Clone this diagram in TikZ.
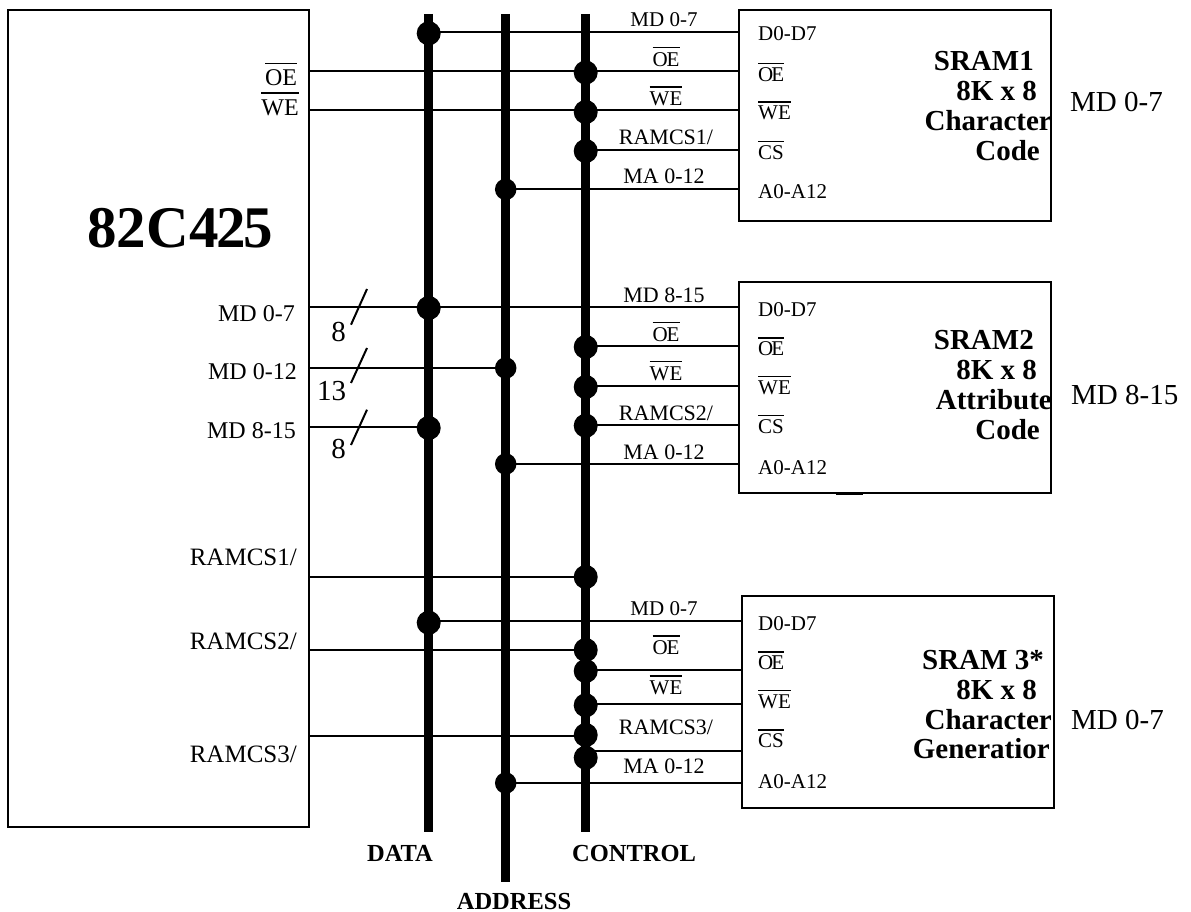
\documentclass[tikz,border=0pt]{standalone}
\usepackage{fontspec}
\setmainfont{Liberation Serif}
\newcommand{\sigbar}[2][3.2pt]{\vbox{\hrule height 1.6pt\kern #1\hbox{#2}}}
\begin{document}
\begin{tikzpicture}[x=1pt,y=-1pt,line cap=butt]
    \tikzset{
        chip/.style={draw,line width=2pt,inner sep=0pt,outer sep=0pt,anchor=north west},
        bus/.style={line width=8.5pt},
        wire/.style={line width=2pt},
        tap/.style={circle,fill=black,inner sep=0pt,minimum size=24pt},
        tapa/.style={circle,fill=black,inner sep=0pt,minimum size=21.5pt},
        sig/.style={inner sep=0pt,font=\fontsize{22}{24}\selectfont},
        sigsmall/.style={inner sep=0pt,font=\fontsize{21}{24}\selectfont},
        pin/.style={sigsmall,anchor=west},
        side/.style={inner sep=0pt,anchor=east,font=\fontsize{24}{26}\selectfont},
        sidecs/.style={side,font=\fontsize{25}{26}\selectfont},
        big/.style={inner sep=0pt,font=\fontsize{29}{32}\selectfont},
        title/.style={inner sep=0pt,font=\bfseries\fontsize{29}{32}\selectfont,anchor=east},
        busname/.style={inner sep=0pt,font=\bfseries\fontsize{24.5}{26}\selectfont}
    }
    \useasboundingbox (0,0) rectangle (1191,912);

    % blocks
    \node[chip,minimum width=301pt,minimum height=817pt] (controller) at (8,10) {};
    \node[inner sep=0pt,font=\bfseries\fontsize{59}{62}\selectfont] (chipname) at (180,228)
        {82C4\kern-2pt2\kern-3pt5};
    \node[chip,minimum width=312pt,minimum height=211pt] (sramA) at (739,10) {};
    \node[chip,minimum width=312pt,minimum height=211pt] (sramB) at (739,282) {};
    \node[chip,minimum width=312pt,minimum height=212pt] (sramC) at (741.5,596) {};
    \coordinate (blotS) at (836,493.5);
    \coordinate (blotE) at (863,493.5);
    \draw[line width=3pt] (blotS) -- (blotE);

    % buses
    \coordinate (dataTop) at (428.7,14);
    \coordinate (dataEnd) at (428.7,832);
    \coordinate (addrTop) at (505.7,14);
    \coordinate (addrEnd) at (505.7,882);
    \coordinate (ctrlTop) at (585.7,14);
    \coordinate (ctrlEnd) at (585.7,832);
    \draw[bus] (dataTop) -- (dataEnd);
    \draw[bus] (addrTop) -- (addrEnd);
    \draw[bus] (ctrlTop) -- (ctrlEnd);
    \node[busname] (dataname) at (400,853) {DATA};
    \node[busname] (addrname) at (514,901) {ADDRESS};
    \node[busname] (ctrlname) at (634,853) {CONTROL};

    % taps on the buses
    \node[tap] (tapA1) at (428.7,33.3) {};
    \node[tap] (tapA2) at (585.7,72.5) {};
    \node[tap] (tapA3) at (585.7,112) {};
    \node[tap] (tapA4) at (585.7,151) {};
    \node[tapa] (tapA5) at (505.7,189.3) {};
    \node[tap] (tapB1) at (428.7,308) {};
    \node[tapa] (tapM) at (505.7,368) {};
    \node[tap] (tapH) at (428.7,428) {};
    \node[tap] (tapB2) at (585.7,347) {};
    \node[tap] (tapB3) at (585.7,387) {};
    \node[tap] (tapB4) at (585.7,425.7) {};
    \node[tapa] (tapB5) at (505.7,464) {};
    \node[tap] (tapCS1) at (585.7,577) {};
    \node[tap] (tapC1) at (428.7,622.7) {};
    \node[tap] (tapCS2) at (585.7,650) {};
    \node[tap] (tapC2) at (585.7,671) {};
    \node[tap] (tapC3) at (585.7,705.3) {};
    \node[tap] (tapCS3) at (585.7,735) {};
    \node[tap] (tapC4) at (585.7,757.7) {};
    \node[tapa] (tapC5) at (505.7,783) {};

    % wires on the controller
    \coordinate (outOE) at (309,71);
    \coordinate (outWE) at (309,110);
    \coordinate (outMDL) at (309,307);
    \coordinate (outMA) at (309,368);
    \coordinate (outMDH) at (309,427);
    \coordinate (outCSA) at (309,577);
    \coordinate (outCSB) at (309,650);
    \coordinate (outCSC) at (309,736);
    \draw[wire] (outOE) -- (outOE -| tapA2);
    \draw[wire] (outWE) -- (outWE -| tapA3);
    \draw[wire] (outMDL) -- (outMDL -| sramB.west);
    \draw[wire] (outMA) -- (outMA -| tapM);
    \draw[wire] (outMDH) -- (outMDH -| tapH);
    \draw[wire] (outCSA) -- (outCSA -| tapCS1);
    \draw[wire] (outCSB) -- (outCSB -| tapCS2);
    \draw[wire] (outCSC) -- (outCSC -| tapCS3);

    % wires on the srams
    \coordinate (inA1) at (739,32);
    \coordinate (inA2) at (739,71);
    \coordinate (inA3) at (739,110);
    \coordinate (inA4) at (739,150);
    \coordinate (inA5) at (739,189);
    \draw[wire] (inA1) -- (inA1 -| tapA1);
    \draw[wire] (inA2) -- (inA2 -| tapA2);
    \draw[wire] (inA3) -- (inA3 -| tapA3);
    \draw[wire] (inA4) -- (inA4 -| tapA4);
    \draw[wire] (inA5) -- (inA5 -| tapA5);
    \coordinate (inB2) at (739,346);
    \coordinate (inB3) at (739,386);
    \coordinate (inB4) at (739,425);
    \coordinate (inB5) at (739,464);
    \draw[wire] (inB2) -- (inB2 -| tapB2);
    \draw[wire] (inB3) -- (inB3 -| tapB3);
    \draw[wire] (inB4) -- (inB4 -| tapB4);
    \draw[wire] (inB5) -- (inB5 -| tapB5);
    \coordinate (inC1) at (741.5,621);
    \coordinate (inC2) at (741.5,670);
    \coordinate (inC3) at (741.5,704);
    \coordinate (inC4) at (741.5,751);
    \coordinate (inC5) at (741.5,783);
    \draw[wire] (inC1) -- (inC1 -| tapC1);
    \draw[wire] (inC2) -- (inC2 -| tapC2);
    \draw[wire] (inC3) -- (inC3 -| tapC3);
    \draw[wire] (inC4) -- (inC4 -| tapC4);
    \draw[wire] (inC5) -- (inC5 -| tapC5);

    % bus width marks
    \coordinate (markAs) at (351,324.7);
    \coordinate (markAe) at (367,289);
    \coordinate (markBs) at (351,383);
    \coordinate (markBe) at (367,348);
    \coordinate (markCs) at (351,445);
    \coordinate (markCe) at (367,409.7);
    \draw[wire] (markAs) -- (markAe);
    \draw[wire] (markBs) -- (markBe);
    \draw[wire] (markCs) -- (markCe);
    \node[big] (widthA) at (338.7,331.7) {8};
    \node[big] (widthB) at (331.7,390.7) {13};
    \node[big] (widthC) at (338.7,449.3) {8};

    % controller labels
    \node[side,anchor=center] (labOE) at (281,74.5) {\sigbar[5.5pt]{OE}};
    \node[side,anchor=center] (labWE) at (280,104) {\sigbar[5.5pt]{WE}};
    \node[side] (labMDL) at (295,314) {MD 0-7};
    \node[side] (labMA) at (297,372) {MD 0-12};
    \node[side] (labMDH) at (296,431) {MD 8-15};
    \node[sidecs] (labCSA) at (297,557) {RAMCS1/};
    \node[sidecs] (labCSB) at (297,641) {RAMCS2/};
    \node[sidecs] (labCSC) at (297,754) {RAMCS3/};

    % labels over the wires
    \node[sigsmall] (wireA1) at (664,20) {MD 0-7};
    \node[sigsmall] (wireA2) at (666,56.5) {\sigbar[4pt]{O\kern-1ptE}};
    \node[sigsmall] (wireA3) at (666,96) {\sigbar[4pt]{WE}};
    \node[sig] (wireA4) at (666,137) {RAMCS1/};
    \node[sig] (wireA5) at (664,176) {MA 0-12};
    \node[sig] (wireB1) at (664,295) {MD 8-15};
    \node[sigsmall] (wireB2) at (666,331.5) {\sigbar[4pt]{O\kern-1ptE}};
    \node[sigsmall] (wireB3) at (666,370.5) {\sigbar[4pt]{WE}};
    \node[sig] (wireB4) at (666,413) {RAMCS2/};
    \node[sig] (wireB5) at (664,452) {MA 0-12};
    \node[sigsmall] (wireC1) at (664,609) {MD 0-7};
    \node[sigsmall] (wireC2) at (666,645) {\sigbar[4pt]{O\kern-1ptE}};
    \node[sigsmall] (wireC3) at (666,685) {\sigbar[4pt]{WE}};
    \node[sig] (wireC4) at (666,727) {RAMCS3/};
    \node[sig] (wireC5) at (664,766) {MA 0-12};

    % pins of sram 1
    \node[pin] (pinA1) at (758,34) {D0-D7};
    \node[pin] (pinA2) at (758,72) {\sigbar{O\kern-2ptE}};
    \node[pin] (pinA3) at (758,110.5) {\sigbar{WE}};
    \node[pin] (pinA4) at (758,150) {\sigbar{CS}};
    \node[pin] (pinA5) at (758,192) {A0-A12};
    \node[title] (nameA1) at (1034,61) {SRAM1};
    \node[title] (nameA2) at (1037,91) {8K x 8};
    \node[title] (nameA3) at (1052,121) {Character};
    \node[title] (nameA4) at (1040,151) {Code};
    \node[big,anchor=west] (busA) at (1070,102) {MD 0-7};

    % pins of sram 2
    \node[pin] (pinB1) at (758,310) {D0-D7};
    \node[pin] (pinB2) at (758,346.5) {\sigbar{O\kern-2ptE}};
    \node[pin] (pinB3) at (758,385) {\sigbar{WE}};
    \node[pin] (pinB4) at (758,424) {\sigbar{CS}};
    \node[pin] (pinB5) at (758,468) {A0-A12};
    \node[title] (nameB1) at (1034,340) {SRAM2};
    \node[title] (nameB2) at (1037,370) {8K x 8};
    \node[title] (nameB3) at (1052,400) {Attribute};
    \node[title] (nameB4) at (1040,430) {Code};
    \node[big,anchor=west] (busB) at (1071,395) {MD 8-15};

    % pins of sram 3
    \node[pin] (pinC1) at (758,624) {D0-D7};
    \node[pin] (pinC2) at (758,660.5) {\sigbar{O\kern-2ptE}};
    \node[pin] (pinC3) at (758,699) {\sigbar{WE}};
    \node[pin] (pinC4) at (758,738.5) {\sigbar{CS}};
    \node[pin] (pinC5) at (758,782) {A0-A12};
    \node[title] (nameC1) at (1044,660) {SRAM 3*};
    \node[title] (nameC2) at (1037,690) {8K x 8};
    \node[title] (nameC3) at (1052,720) {Character};
    \node[title] (nameC4) at (1050,749) {Generatior};
    \node[big,anchor=west] (busC) at (1071,720) {MD 0-7};
\end{tikzpicture}
\end{document}
